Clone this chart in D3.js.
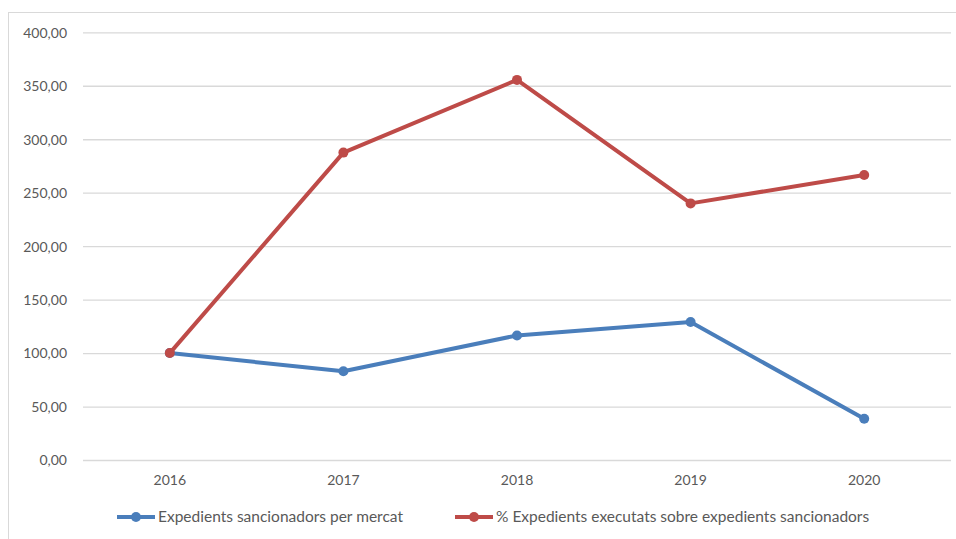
<!DOCTYPE html>
<html><head><meta charset="utf-8">
<script src="https://cdn.jsdelivr.net/npm/d3@7"></script>
<style>body{margin:0;background:#fff}svg{display:block}text{font-family:Lato,"Open Sans",sans-serif;fill:#595959}</style>
</head><body><svg id="c" width="956" height="539"></svg>
<script>
const years = ["2016","2017","2018","2019","2020"];
const seriesNames = ["Expedients sancionadors per mercat","% Expedients executats sobre expedients sancionadors"];
const blueValues = [100, 83, 116.5, 129, 38.5];
const redValues = [100, 287.5, 355.5, 240, 266.5];
const yTicks = [0,50,100,150,200,250,300,350,400];
const colors = ["#4a7ebb","#be4b48"];

const svg = d3.select("#c");
svg.append("rect").attr("x",8.5).attr("y",12.5).attr("width",960).attr("height",600)
  .attr("fill","none").attr("stroke","#d9d9d9");

const x = d3.scaleBand().domain(years).range([83,951]);
const y = d3.scaleLinear().domain([0,400]).range([460,32.3]);
const fmt = v => d3.format(".2f")(v).replace(".",",");

const ga = svg.append("g").attr("transform","translate(83,0)")
  .call(d3.axisLeft(y).tickValues(yTicks).tickSize(-868).tickFormat(fmt).tickPadding(16));
ga.select(".domain").remove();
ga.selectAll(".tick line").attr("stroke","#d9d9d9").attr("stroke-width",1.3);
ga.selectAll(".tick text").attr("font-size",14).attr("fill","#595959").attr("dy","0.35em");

const gx = svg.append("g").attr("transform","translate(0,460)")
  .call(d3.axisBottom(x).tickSize(0).tickPadding(15));
gx.select(".domain").remove();
gx.selectAll(".tick text").attr("font-size",14).attr("fill","#595959");

const line = d3.line().x((d,i)=>x(years[i])+x.bandwidth()/2).y(d=>y(d));
[blueValues, redValues].forEach((vals,k)=>{
  svg.append("path").datum(vals).attr("d",line).attr("fill","none")
    .attr("stroke",colors[k]).attr("stroke-width",4).attr("stroke-linejoin","round");
  svg.selectAll(null).data(vals).enter().append("circle")
    .attr("cx",(d,i)=>x(years[i])+x.bandwidth()/2).attr("cy",d=>y(d)).attr("r",5)
    .attr("fill",colors[k]);
});

const legX = [117, 455];
seriesNames.forEach((n,k)=>{
  const g = svg.append("g").attr("transform",`translate(${legX[k]},517)`);
  g.append("line").attr("x1",0).attr("x2",38).attr("stroke",colors[k]).attr("stroke-width",4);
  g.append("circle").attr("cx",19).attr("r",5).attr("fill",colors[k]);
  g.append("text").attr("x",41).attr("dy","0.35em").attr("font-size",15.5).text(n);
});
</script></body></html>
